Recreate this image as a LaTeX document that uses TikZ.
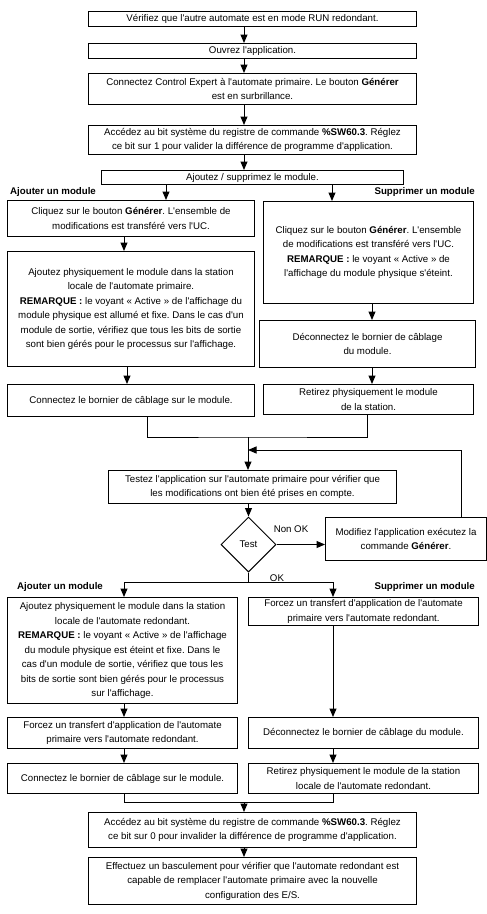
\documentclass[tikz,border=0pt]{standalone}
\usepackage{fontspec}
\setmainfont{Liberation Sans}[Ligatures=TeXOff]
\usetikzlibrary{arrows.meta,shapes.geometric}
\newcommand{\flowfont}{\fontsize{9.7}{14.5}\selectfont}
\frenchspacing
\begin{document}
\begin{tikzpicture}[x=1pt,y=-1pt,
  box/.style={draw, line width=1pt, align=center, inner sep=0pt,
    font=\flowfont, anchor=north west},
  decision/.style={draw, line width=1pt, diamond, inner sep=0pt,
    minimum width=55pt, minimum height=55pt, font=\flowfont},
  tag/.style={font=\flowfont\bfseries, inner sep=0pt},
  note/.style={font=\flowfont, inner sep=0pt},
  arr/.style={line width=1pt, -{Triangle[width=7pt,length=8.5pt]}},
  ln/.style={line width=1pt}]
\useasboundingbox (0,0) rectangle (487,914);

% main column, top part
\node[box, minimum width=328pt, minimum height=15pt] (b1) at (88,11)
  {Vérifiez que l'autre automate est en mode RUN redondant.};
\node[box, minimum width=328pt, minimum height=15pt] (b2) at (88,43)
  {Ouvrez l'application.};
\node[box, minimum width=328pt, minimum height=31pt] (b3) at (88,73)
  {Connectez Control Expert à l'automate primaire. Le bouton \textbf{Générer}\\est en surbrillance.};
\node[box, minimum width=328pt, minimum height=29pt] (b4) at (88,125)
  {Accédez au bit système du registre de commande \textbf{\%SW60.3}. Réglez\\ce bit sur 1 pour valider la différence de programme d'application.};
\node[box, minimum width=302pt, minimum height=14pt] (b5) at (101,170)
  {Ajoutez / supprimez le module.};

\coordinate (ax) at (244,0);
\draw[arr] (b1.south -| ax) -- (b2.north -| ax);
\draw[arr] (b2.south -| ax) -- (b3.north -| ax);
\draw[arr] (b3.south -| ax) -- (b4.north -| ax);
\draw[arr] (b4.south -| ax) -- (b5.north -| ax);

% first branch: add / remove
\node[tag, anchor=west] (tagA1) at (10,192) {Ajouter un module};
\node[tag, anchor=east] (tagS1) at (475,192) {Supprimer un module};

\node[box, minimum width=247pt, minimum height=36pt] (l6) at (7,200)
  {Cliquez sur le bouton \textbf{Générer}. L'ensemble de\\modifications est transféré vers l'UC.};
\node[box, minimum width=210pt, minimum height=102pt] (r6) at (263,201)
  {Cliquez sur le bouton \textbf{Générer}. L'ensemble\\de modifications est transféré vers l'UC.\\\textbf{REMARQUE :} le voyant « Active » de\\l'affichage du module physique s'éteint.};
\node[box, minimum width=247pt, minimum height=115pt] (l7) at (7,251)
  {Ajoutez physiquement le module dans la station\\locale de l'automate primaire.\\\textbf{REMARQUE :} le voyant « Active » de l'affichage du\\module physique est allumé et fixe. Dans le cas d'un\\module de sortie, vérifiez que tous les bits de sortie\\sont bien gérés pour le processus sur l'affichage.};
\node[box, minimum width=216pt, minimum height=47pt] (r8) at (259,320)
  {Déconnectez le bornier de câblage\\du module.};
\node[box, minimum width=247pt, minimum height=32pt] (l8) at (7,384)
  {Connectez le bornier de câblage sur le module.};
\node[box, minimum width=210pt, minimum height=30pt] (r9) at (263,384)
  {Retirez physiquement le module\\de la station.};

\coordinate (xa) at (166,0);
\coordinate (xs) at (332,0);
\draw[arr] (b5.south -| xa) -- (l6.north -| xa);
\draw[arr] (b5.south -| xs) -- (r6.north -| xs);
\coordinate (xl1) at (124,0);
\coordinate (xl2) at (127,0);
\coordinate (xr1) at (372,0);
\draw[arr] (l6.south -| xl1) -- (l7.north -| xl1);
\draw[arr] (l7.south -| xl2) -- (l8.north -| xl2);
\draw[arr] (r6.south -| xr1) -- (r8.north -| xr1);
\draw[arr] (r8.south -| xr1) -- (r9.north -| xr1);

% merge and test
\coordinate (m1) at (248,437);
\node[box, minimum width=288pt, minimum height=33pt] (t) at (108,470)
  {Testez l'application sur l'automate primaire pour vérifier que\\les modifications ont bien été prises en compte.};
\draw[ln] (l8.south -| 147,0) |- (m1) -| (r9.south -| 367,0);
\draw[arr] (m1) -- (t.north -| m1);

\node[decision] (d) at (248.5,544.5) {Test};
\draw[arr] (t.south -| d) -- (d.north);
\node[box, minimum width=161pt, minimum height=43pt] (mod) at (325,517)
  {Modifiez l'application exécutez la\\commande \textbf{Générer}.};
\draw[arr] (d.east) -- (d.east -| mod.west);
\node[note] (nok) at (291,529) {Non OK};
\coordinate (loop) at (461,450);
\draw[arr] (mod.north -| loop) -- (loop) -- (loop -| m1);
\node[note] (ok) at (277,578) {OK};

% second branch: add / remove on the redundant controller
\coordinate (m2) at (248.5,582);
\node[tag, anchor=west] (tagA2) at (17,587) {Ajouter un module};
\node[tag, anchor=east] (tagS2) at (475,587) {Supprimer un module};

\node[box, minimum width=230pt, minimum height=106pt] (l10) at (7,597)
  {Ajoutez physiquement le module dans la station\\locale de l'automate redondant.\\\textbf{REMARQUE :} le voyant « Active » de l'affichage\\du module physique est éteint et fixe. Dans le\\cas d'un module de sortie, vérifiez que tous les\\bits de sortie sont bien gérés pour le processus\\sur l'affichage.};
\node[box, minimum width=230pt, minimum height=28pt] (r10) at (248,597)
  {Forcez un transfert d'application de l'automate\\primaire vers l'automate redondant.};
\node[box, minimum width=230pt, minimum height=31pt] (l11) at (7,717)
  {Forcez un transfert d'application de l'automate\\primaire vers l'automate redondant.};
\node[box, minimum width=230pt, minimum height=31pt] (r11) at (248,717)
  {Déconnectez le bornier de câblage du module.};
\node[box, minimum width=230pt, minimum height=30pt] (l12) at (7,763)
  {Connectez le bornier de câblage sur le module.};
\node[box, minimum width=230pt, minimum height=30pt] (r12) at (248,763)
  {Retirez physiquement le module de la station\\locale de l'automate redondant.};

\coordinate (xl) at (124,0);
\coordinate (xr) at (333,0);
\draw[ln] (d.south) -- (m2);
\draw[ln] (m2 -| xl) -- (m2 -| xr);
\draw[arr] (m2 -| xl) -- (l10.north -| xl);
\draw[arr] (m2 -| xr) -- (r10.north -| xr);
\draw[arr] (l10.south -| xl) -- (l11.north -| xl);
\draw[arr] (r10.south -| xr) -- (r11.north -| xr);
\draw[arr] (l11.south -| xl) -- (l12.north -| xl);
\draw[arr] (r11.south -| xr) -- (r12.north -| xr);

% final steps
\node[box, minimum width=328pt, minimum height=35pt] (b13) at (88,812)
  {Accédez au bit système du registre de commande \textbf{\%SW60.3}. Réglez\\ce bit sur 0 pour invalider la différence de programme d'application.};
\node[box, minimum width=328pt, minimum height=47pt] (b14) at (88,857)
  {Effectuez un basculement pour vérifier que l'automate redondant est\\capable de remplacer l'automate primaire avec la nouvelle\\configuration des E/S.};
\coordinate (m3) at (244,802);
\draw[ln] (l12.south -| xl) |- (m3) -| (r12.south -| xr);
\draw[arr] (m3) -- (b13.north -| m3);
\draw[arr] (b13.south -| m3) -- (b14.north -| m3);
\end{tikzpicture}
\end{document}
